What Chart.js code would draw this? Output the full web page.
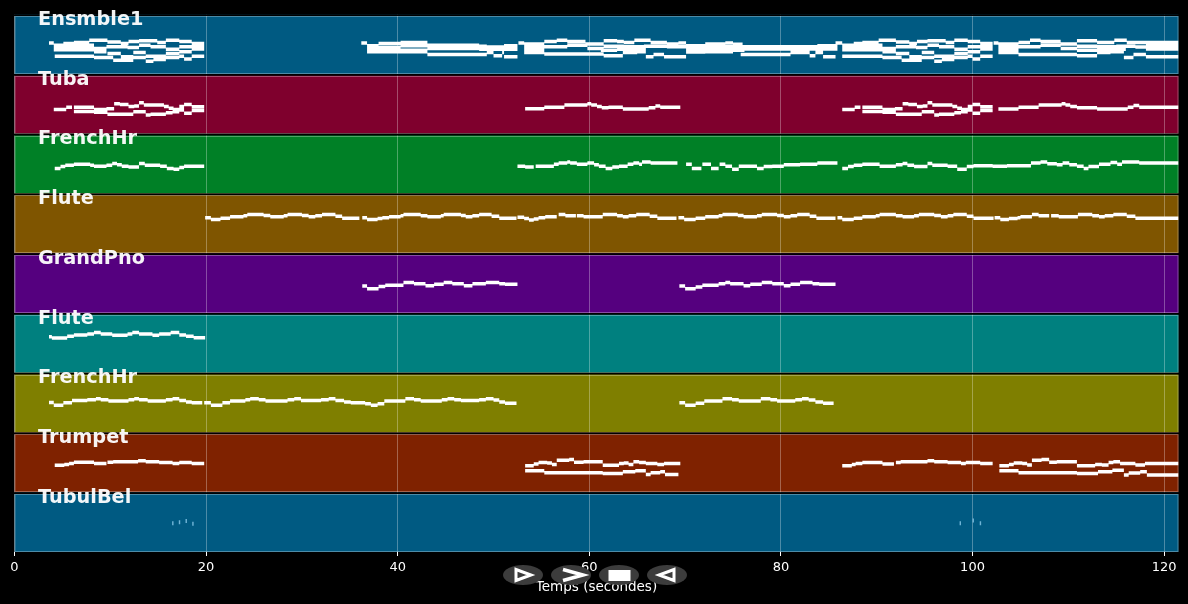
<!DOCTYPE html>
<html>
<head>
<meta charset="utf-8">
<title>Piano roll</title>
<script src="https://cdn.jsdelivr.net/npm/chart.js@4/dist/chart.umd.min.js"></script>
<style>
  html, body { margin: 0; padding: 0; background: #000; }
  canvas { display: block; }
</style>
</head>
<body>
<canvas id="roll" width="1188" height="604"></canvas>
<script>
// each voice is: start, pitch, start, pitch, ... , end (null pitch = rest)
const ensemble1Voices = [
  [3.6,68, 4.1,62, 5.1,67, 6.2,69, 7.8,74, 9.7,70, 11.1,67, 11.9,71, 13,73, 14.9,69, 15.8,74, 17.2,71, 18.5,67, 19.8],
  [4.1,63, 8.3,56, 9.6],
  [4.1,58, 8.3],
  [18.5,63, 19.8],
  [4.1,53, 8.3,49, 9.6,60, 11.8,58, 13,63, 14.2,60, 15.8,54, 17.2,60, 19.8],
  [4.2,39, 8.3,36, 10.3,30, 12.4,36, 13.7,28, 14.5,32, 15.8,36, 17.2,39, 17.7,33, 18.5,39, 19.8],
  [9.7,45, 11.1,38, 12.4,47, 13.7,39, 15.8,45, 17.2,49, 18.5,55, 19.8],
  [36.2,68, 36.8,62, 38,67, 40.3,69, 43.1,63, 48.5,61, 49.3,59, 51.1,62, 52.5],
  [36.8,58, 40.3,62, 43.1,60, 48.5],
  [50,58, 52.5],
  [36.8,55, 40.3,52, 43.1,56, 48.5,54, 52.5],
  [36.8,49, 43.1,43, 49.3,47, 50,40, 50.9,47, 51.1,38, 52.5],
  [52.6,68, 53.2,62, 55.3,71, 56.6,74, 57.7,71, 59.6,66, 61.5,73, 62.9,71, 63.6,69, 64.7,74, 66.4,69, 68.1,66, 69.3,68, 70.1],
  [53.2,58, 55.3],
  [53.2,66, 55.3],
  [53.2,54, 55.3,60, 57.7,63, 59.8,56, 61.5,61, 63.6,60, 65.7,61, 68.1,60, 70.1],
  [53.2,47, 55.3,44, 61.5,40, 63.5,47, 65,49, 65.9,38, 66.7,43, 67.8,38, 70.1],
  [61.2,52, 62.9,54, 65.9],
  [70.1,62, 72.1,66, 74.2,68, 75,65, 76,60, 83.8,62, 85.9],
  [70.1,58, 72.1,60, 76],
  [83.8,58, 85.9],
  [70.1,55, 72.1,52, 76.2,55, 85.9],
  [70.1,48, 72.1,49, 75,null, 75.8,43, 81,47, 83,40, 83.6,47, 84.4,38, 85.7],
  [85.7,68, 86.4,62, 87.6,67, 88.5,69, 90.2,74, 92,70, 93.4,67, 94.2,71, 95.3,73, 97.2,69, 98.1,74, 99.5,71, 100.8,67, 102.1],
  [86.4,63, 90.6,56, 92],
  [86.4,58, 90.6],
  [100.8,63, 102.1],
  [86.4,53, 90.6,49, 92,60, 94.1,58, 95.3,63, 96.5,60, 98.1,54, 99.5,60, 102.1],
  [86.4,39, 90.6,36, 92.6,30, 94.7,36, 96,28, 96.8,32, 98.1,36, 99.5,39, 100,33, 100.8,39, 102.1],
  [92,45, 93.4,38, 94.7,47, 96,39, 98.1,45, 99.5,49, 100.8,55, 102.1],
  [102.2,68, 102.7,62, 104.8,69, 106,74, 107.1,71, 109.2,66, 110.9,73, 113,69, 114.8,74, 116.1,69, 121.5],
  [102.7,58, 104.8],
  [102.7,66, 104.8],
  [118.1,65, 121.5],
  [102.7,54, 104.8,60, 107.1,63, 109.2,56, 110.9,61, 113,60, 115,61, 117,59, 118.1,60, 121.5],
  [102.7,47, 104.8,null, 110.9,52, 113,54, 116,null, 118.1,55, 121.5],
  [104.8,43, 110.9,40, 113,47, 114.4,49, 115.8,36, 116.8,43, 118.1,38, 121.5]
];

const tubaVoices = [
  [4.1,53, 5.4,58, 6,null, 6.2,58, 8.3,53, 9.6,55, 10.4,66, 11,64, 11.9,60, 12.5,61, 13,68, 13.5,63, 15.6,60, 16.1,56, 16.6,53, 17.2,60, 17.7,64, 18.5,59, 19.8],
  [6.2,49, 8.3,47, 9.7,43, 12.4,48, 13.7,41, 14.2,43, 15.8,46, 16.5,48, 17.2,52, 17.7,45, 18.5,51, 19.8],
  [53.3,55, 55.3,58, 57.4,63, 59.8,66, 60.2,63, 60.8,60, 61.3,57, 62,58, 63.5,54, 66.2,57, 66.9,61, 67.4,58, 69.5],
  [86.4,53, 87.7,58, 88.3,null, 88.5,58, 90.6,53, 91.9,55, 92.7,66, 93.3,64, 94.2,60, 94.8,61, 95.3,68, 95.8,63, 97.9,60, 98.4,56, 98.9,53, 99.5,60, 100,64, 100.8,59, 102.1],
  [88.5,49, 90.6,47, 92,43, 94.7,48, 96,41, 96.5,43, 98.1,46, 98.8,48, 99.5,52, 100,45, 100.8,51, 102.1],
  [102.7,54, 104.8,58, 106.9,63, 109.3,66, 109.7,63, 110.2,60, 110.9,57, 113,54, 116.2,58, 116.8,62, 117.4,58, 121.5]
];

const frenchHorn1Voices = [
  [4.2,55, 4.8,59, 5.3,62, 6.2,64, 7.9,62, 8.3,60, 9.6,62, 10.2,66, 10.7,63, 11.2,60, 11.9,58, 13,66, 13.6,62, 15.2,60, 15.9,55, 16.6,53, 17.2,57, 17.7,60, 19.8],
  [52.5,60, 53.3,58, 54.2,null, 54.4,60, 55.4,60, 56.3,64, 56.8,67, 57.7,69, 58,67, 58.7,64, 59.8,67, 60.5,63, 61,60, 61.7,55, 62.4,58, 63.1,60, 64,64, 64.6,67, 65.2,64, 65.5,69, 66.4,67, 69.2],
  [70.1,64, 70.7,55, 71.7,null, 71.8,64, 72.7,55, 73.5,null, 73.6,64, 74.2,60, 74.9,53, 75.6,60, 77.5,55, 78.2,59, 79.1,60, 80.3,63, 82,64, 83.8,67, 85.9],
  [86.4,55, 87,59, 87.6,62, 88.5,64, 90.3,60, 92,63, 92.7,66, 93.2,62, 93.9,59, 95.3,66, 95.8,62, 97.4,60, 98.4,53, 99.4,59, 100.1,61, 102.1,60, 103.6,61, 106.1,67, 107.1,69, 107.8,65, 108.8,63, 109.4,67, 110.1,63, 110.9,60, 111.6,55, 112.1,59, 113.2,64, 114.4,68, 115.1,64, 115.6,69, 117.4,67, 121.5]
];

const flute1Voices = [
  [19.9,78, 20.5,74, 21.5,77, 22.5,80, 23.9,82, 24.3,85, 26,83, 26.7,80, 28.1,82, 28.5,85, 30,83, 30.7,80, 31.4,82, 32.1,85, 33.5,81, 34.2,77, 36],
  [36.3,78, 36.8,74, 37.9,76, 38.4,78, 39.1,80, 40.3,82, 40.6,85, 42.4,82, 43.1,80, 44.5,82, 44.8,85, 46.6,83, 47.1,80, 47.8,82, 48.5,85, 49.8,81, 50.6,77, 52.4],
  [52.5,79, 53.2,76, 53.7,73, 54.2,75, 54.7,78, 55.4,80, 56.6,null, 56.8,85, 57.5,82, 58.6,null, 58.7,82, 59.4,80, 61.4,85, 62.9,82, 63.5,80, 64.1,82, 64.9,85, 66.3,81, 67.1,77, 69.1],
  [69.3,78, 69.9,74, 71.1,77, 72.1,80, 73.5,82, 73.9,85, 75.5,83, 76.1,80, 77.5,82, 78,85, 79.6,83, 80.3,80, 81,82, 81.7,85, 83,81, 83.7,77, 85.7],
  [85.9,78, 86.4,74, 87.6,77, 88.5,80, 89.9,82, 90.3,85, 92,82, 92.7,80, 93.9,82, 94.4,85, 96,83, 96.7,80, 97.4,82, 98,85, 99.4,81, 100.1,77, 102.2],
  [102.3,78, 102.9,74, 103.8,76, 104.7,78, 105,80, 106.2,85, 106.9,82, 108,null, 108.2,82, 109,80, 111,85, 112.5,82, 113.2,80, 113.8,82, 114.7,85, 116.1,81, 117,77, 121.5]
];

const grandPianoVoices = [
  [36.3,59, 36.8,53, 38,58, 38.7,61, 40.6,67, 41.7,64, 42.9,60, 43.8,63, 44.8,67, 45.7,64, 46.9,60, 47.8,64, 49.2,67, 50.6,64, 51.2,63, 52.5],
  [69.4,59, 70,53, 71.1,57, 71.8,61, 73.5,64, 74.2,67, 74.7,64, 76.1,60, 76.8,63, 78,67, 79.1,64, 80.3,60, 81,63, 82,67, 83.3,64, 84,63, 85.7]
];

const flute2Voices = [
  [3.6,79, 3.9,76, 5.5,80, 6.2,83, 7.6,85, 8.3,88, 9,85, 10.2,82, 11.8,85, 12.3,88, 13,85, 14.4,82, 15.1,85, 16.3,88, 17.2,83, 17.9,80, 18.7,77, 19.9]
];

const frenchHorn2Voices = [
  [3.6,66, 4.1,60, 5.1,65, 6,70, 7.6,72, 8.5,74, 9,72, 9.8,69, 11.9,72, 12.5,74, 13,72, 13.9,69, 15.8,72, 16.5,74, 17.2,70, 17.9,67, 18.5,65, 19.6],
  [19.8,65, 20.5,60, 21.7,65, 22.5,69, 24.1,72, 24.6,74, 25.5,72, 26.2,69, 28.5,72, 29.2,74, 29.9,70, 32,72, 32.8,74, 33.5,70, 34.4,67, 35.1,65, 36.6,63, 37.2,60, 37.9,63, 38.6,69, 40.8,74, 41.7,72, 42.4,69, 44.6,72, 45.2,74, 45.9,72, 46.6,70, 48.5,72, 49.2,74, 50,71, 50.6,67, 51.2,64, 52.4],
  [69.4,65, 70,60, 71.1,64, 72,69, 73.9,74, 74.9,72, 75.6,69, 77.9,74, 78.9,72, 79.6,69, 81.5,72, 82.2,74, 82.9,71, 83.6,67, 84.4,64, 85.5]
];

const trumpetVoices = [
  [4.2,59, 5.2,61, 5.7,63, 6.2,66, 8.3,63, 9.6,null, 9.7,66, 10.3,67, 12.9,69, 13.7,67, 15.1,65, 16.5,63, 17.2,65, 18.5,63, 19.8],
  [53.3,58, 54.2,62, 54.7,65, 55.6,64, 56.1,61, 56.6,70, 57.9,72, 58.4,66, 59.4,67, 61.4,59, 63.1,63, 63.6,64, 64.1,61, 64.6,67, 65.2,65, 65.9,63, 67.1,61, 67.8,63, 69.5],
  [53.3,47, 55.3,43, 61.4,41, 63.5,45, 64.8,47, 65.9,39, 66.4,43, 67.4,45, 67.9,39, 69.3],
  [86.4,58, 87.4,61, 87.8,63, 88.5,65, 90.6,62, 91.8,null, 92,65, 92.5,67, 95.3,69, 96,67, 97.4,65, 98.8,63, 99.3,65, 100.8,63, 102.1],
  [102.8,58, 103.8,61, 104.3,64, 105.2,63, 105.7,60, 106.2,70, 107.2,72, 108,66, 108.8,67, 110.9,58, 112.8,61, 113.5,60, 114.2,65, 114.7,67, 115.4,63, 117,60, 118,63, 121.5],
  [102.8,47, 104.8,43, 110.9,41, 113.1,45, 114.6,48, 115.8,38, 116.3,42, 117.5,45, 118.2,38, 121.5]
];

const tubularBellVoices = [
  [16.45,63, 16.6], [17.15,65, 17.3], [17.85,68, 18], [18.55,62, 18.7],
  [98.65,63, 98.8], [100,69, 100.15], [100.75,63, 100.9]
];

const trackNames = ['Ensmble1', 'Tuba', 'FrenchHr', 'Flute', 'GrandPno', 'Flute', 'FrenchHr', 'Trumpet', 'TubulBel'];
const trackColors = ['#005a82', '#7f002d', '#008026', '#7f5500', '#55007f', '#00807f', '#7f7f00', '#7f2200', '#005a82'];
const trackVoices = [ensemble1Voices, tubaVoices, frenchHorn1Voices, flute1Voices, grandPianoVoices,
  flute2Voices, frenchHorn2Voices, trumpetVoices, tubularBellVoices];
const xLabel = 'Temps (secondes)';
const FONT = '"DejaVu Sans"';

// turn voices into line points, a null point between notes breaks the line
function voicesToPoints(voices) {
  const points = [];
  voices.forEach(v => {
    for (let i = 0; i + 2 < v.length; i += 2) {
      if (v[i + 1] === null) continue;
      points.push({ x: v[i], y: v[i + 1] }, { x: v[i + 2], y: v[i + 1] }, { x: v[i + 2], y: null });
    }
  });
  return points;
}

const datasets = trackNames.map((name, i) => ({
  label: name,
  data: voicesToPoints(trackVoices[i]),
  yAxisID: 'y' + i,
  showLine: true,
  borderColor: i === 8 ? '#6fb4d6' : '#ffffff',
  borderWidth: i === 8 ? 4 : 3.5,
  borderCapStyle: 'butt',
  pointRadius: 0,
  pointHoverRadius: 0
}));

const scales = {
  x: {
    type: 'linear',
    min: 0,
    max: 121.5,
    afterFit: s => { s.height = 52; },
    border: { display: false },
    grid: { color: 'rgba(255,255,255,0.3)', lineWidth: 1, tickColor: '#ffffff', tickLength: 4 },
    ticks: { stepSize: 20, includeBounds: false, maxRotation: 0, padding: 4, color: '#ffffff', font: { family: FONT, size: 13 } },
    title: { display: true, text: xLabel, color: '#ffffff', font: { family: FONT, size: 13.5 }, padding: { top: 0, bottom: 8 } }
  }
};
// stacked left axes are placed last-defined on top, so define from the bottom track up
for (let i = trackNames.length - 1; i >= 0; i--) {
  scales['y' + i] = {
    type: 'linear',
    position: 'left',
    stack: 'tracks',
    stackWeight: 1,
    min: 0,
    max: 131,
    border: { display: false },
    grid: { display: false, drawTicks: false },
    ticks: { display: false }
  };
}

const GAP = 1.75;

const panelsPlugin = {
  id: 'panels',
  beforeDraw(chart) {
    const { ctx, chartArea, width, height } = chart;
    ctx.save();
    ctx.fillStyle = '#000';
    ctx.fillRect(0, 0, width, height);
    trackNames.forEach((name, i) => {
      const s = chart.scales['y' + i];
      ctx.fillStyle = trackColors[i];
      ctx.fillRect(chartArea.left, s.top, chartArea.right - chartArea.left, s.bottom - s.top);
    });
    ctx.restore();
  },
  beforeDatasetsDraw(chart) {
    const { ctx, chartArea } = chart;
    ctx.save();
    trackNames.forEach((name, i) => {
      const s = chart.scales['y' + i];
      ctx.fillStyle = '#000';
      ctx.fillRect(chartArea.left - 1, s.top, chartArea.right - chartArea.left + 2, GAP);
      ctx.strokeStyle = 'rgba(255,255,255,0.3)';
      ctx.lineWidth = 1;
      ctx.strokeRect(chartArea.left + 0.5, Math.round(s.top + GAP) + 0.5, chartArea.right - chartArea.left - 1, Math.round(s.bottom - s.top - GAP) - 1);
    });
    ctx.restore();
  },
  afterDatasetsDraw(chart) {
    const { ctx } = chart;
    ctx.save();
    ctx.fillStyle = 'rgba(255,255,255,0.95)';
    ctx.font = 'bold 19.3px ' + FONT;
    ctx.textAlign = 'left';
    ctx.textBaseline = 'alphabetic';
    trackNames.forEach((name, i) => {
      ctx.fillText(name, 38, Math.round(chart.scales['y' + i].top + GAP + 8.9));
    });
    ctx.restore();
  },
  // the viewer controls that sit over the axis title
  afterDraw(chart) {
    const { ctx } = chart;
    ctx.save();
    ctx.fillStyle = '#3c3c3c';
    [523, 571, 619, 667].forEach(cx => {
      ctx.beginPath();
      ctx.ellipse(cx, 575, 20, 10, 0, 0, Math.PI * 2);
      ctx.fill();
    });
    ctx.strokeStyle = '#ffffff';
    ctx.fillStyle = '#ffffff';
    ctx.lineWidth = 3;
    ctx.lineJoin = 'miter';
    ctx.beginPath();
    ctx.moveTo(516, 569.5); ctx.lineTo(531, 575); ctx.lineTo(516, 580.5); ctx.closePath();
    ctx.stroke();
    ctx.lineWidth = 3.5;
    ctx.beginPath();
    ctx.moveTo(563, 569.5); ctx.lineTo(583, 575); ctx.lineTo(563, 580.5);
    ctx.stroke();
    ctx.fillRect(608.5, 570, 22, 11);
    ctx.lineWidth = 3;
    ctx.beginPath();
    ctx.moveTo(674, 569.5); ctx.lineTo(659, 575); ctx.lineTo(674, 580.5); ctx.closePath();
    ctx.stroke();
    ctx.restore();
  }
};

new Chart(document.getElementById('roll'), {
  type: 'scatter',
  data: { datasets },
  options: {
    responsive: false,
    animation: false,
    layout: { padding: { left: 14.5, right: 9.5, top: 14.25, bottom: 0 } },
    plugins: { legend: { display: false }, tooltip: { enabled: false }, title: { display: false } },
    scales
  },
  plugins: [panelsPlugin]
});
</script>
</body>
</html>
